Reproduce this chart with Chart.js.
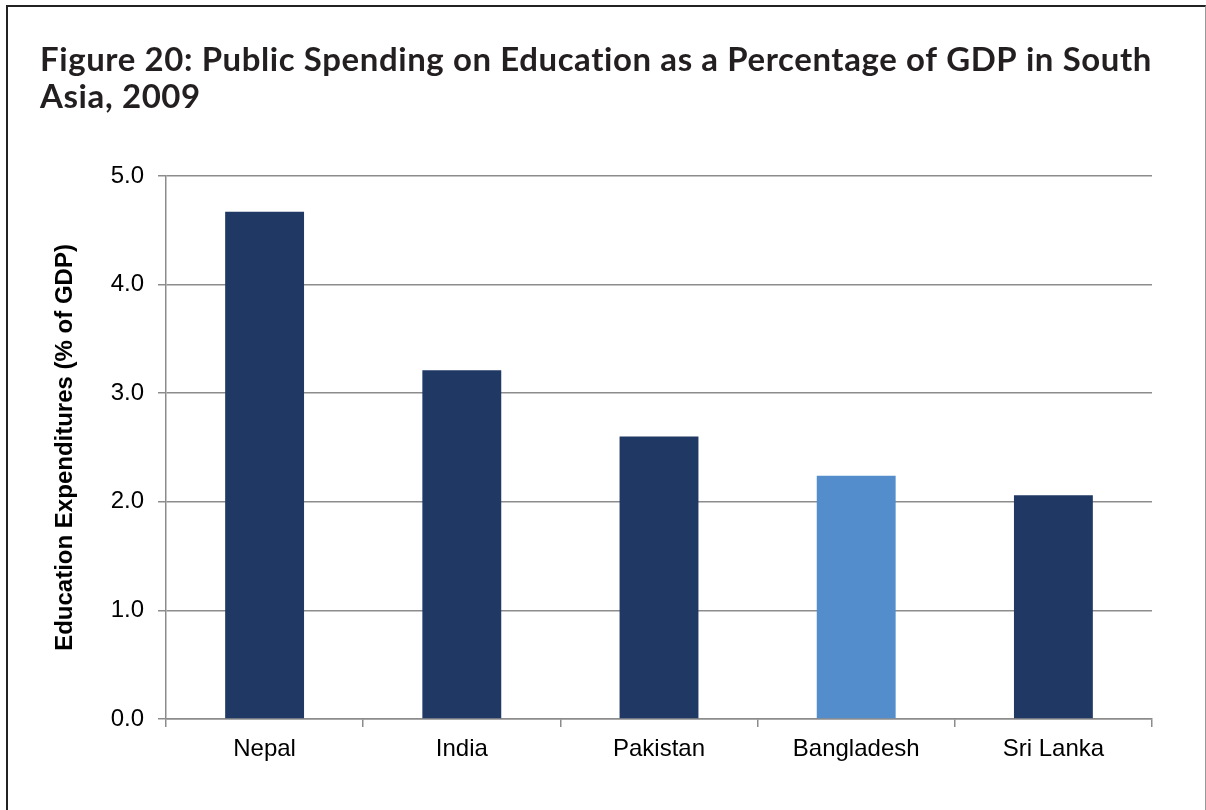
<!DOCTYPE html>
<html><head><meta charset="utf-8">
<script src="https://cdn.jsdelivr.net/npm/chart.js@4"></script>
<style>
html,body{margin:0;padding:0;background:#fff;}
#wrap{position:relative;width:1206px;height:810px;overflow:hidden;}
#frame{position:absolute;left:6px;top:5px;width:1200px;height:820px;border-left:2px solid #222;border-top:2px solid #222;border-right:1px solid #999;box-sizing:border-box;pointer-events:none;}
canvas{position:absolute;left:0;top:0;}
</style></head>
<body>
<div id="wrap"><canvas id="c" width="1206" height="810"></canvas><div id="frame"></div></div>
<script>
const titleLines = ['Figure 20: Public Spending on Education as a Percentage of GDP in South', 'Asia, 2009'];
const categories = ['Nepal', 'India', 'Pakistan', 'Bangladesh', 'Sri Lanka'];
const values = [4.67, 3.21, 2.60, 2.24, 2.06];
const barColors = ['#1F3864', '#1F3864', '#1F3864', '#538DCB', '#1F3864'];
const yTitle = 'Education Expenditures (% of GDP)';
const yMin = 0, yMax = 5, yStep = 1;

const GRID = '#8c8c8c';

// Title drawn with slight letter spacing (also disables the "ti" ligature)
const titleSpacing = {
  id: 'titleSpacing',
  beforeDraw(chart) {
    const tb = chart.titleBlock;
    if (tb && !tb._patched) {
      const orig = tb.draw.bind(tb);
      tb.draw = function () {
        const ctx = chart.ctx;
        const prev = ctx.letterSpacing;
        ctx.letterSpacing = '0.6px';
        orig();
        ctx.letterSpacing = prev || '0px';
      };
      tb._patched = true;
    }
  }
};

new Chart(document.getElementById('c'), {
  type: 'bar',
  data: { labels: categories, datasets: [{ data: values, backgroundColor: barColors, barPercentage: 0.4, categoryPercentage: 1.0 }] },
  plugins: [titleSpacing],
  options: {
    responsive: false, animation: false,
    layout: { padding: { left: 40, right: 54, top: 0, bottom: 0 } },
    plugins: {
      legend: { display: false }, tooltip: { enabled: false },
      title: { display: true, text: titleLines, align: 'start', color: '#231f20',
        font: { family: 'Lato', size: 33, weight: 'bold', lineHeight: 1.12 },
        padding: { top: 42, bottom: 60, left: 0 } }
    },
    scales: {
      x: {
        offset: true,
        grid: { display: true, offset: true, drawOnChartArea: false, drawTicks: true, tickLength: 8, color: GRID, lineWidth: 1.5 },
        border: { display: true, color: GRID, width: 1.5 },
        ticks: { color: '#000', font: { family: 'Liberation Sans', size: 24 }, padding: 8 },
        afterFit: s => { s.height = 91; }
      },
      y: {
        min: yMin, max: yMax,
        grid: { color: GRID, lineWidth: 1.5, tickLength: 8 },
        border: { display: true, color: GRID, width: 1.5 },
        ticks: { stepSize: yStep, color: '#000', font: { family: 'Liberation Sans', size: 24 }, padding: 14,
          callback: v => Number(v).toFixed(1) },
        title: { display: true, text: yTitle, color: '#000', font: { family: 'Liberation Sans', size: 24, weight: 'bold' }, padding: { top: 11, bottom: 0 } },
        afterFit: s => { s.width = 126; }
      }
    }
  }
});
</script>
</body></html>
